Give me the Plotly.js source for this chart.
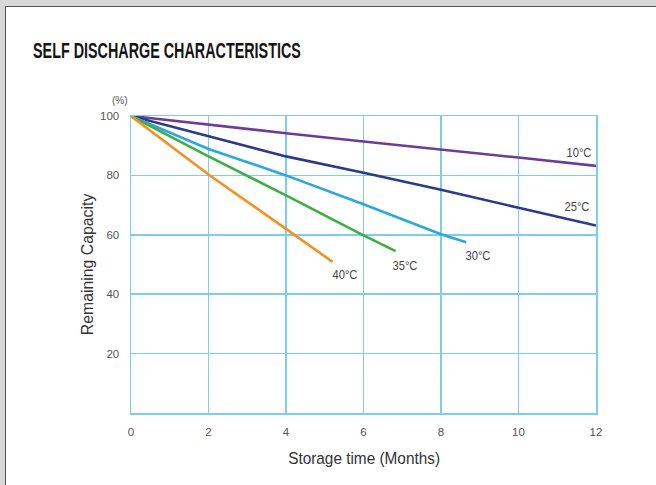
<!DOCTYPE html>
<html>
<head>
<meta charset="utf-8">
<script src="https://cdn.plot.ly/plotly-3.0.1.min.js"></script>
<style>
  html, body { margin: 0; padding: 0; background: #d8d8d8; width: 656px; height: 485px; overflow: hidden; }
  #wrap { position: absolute; left: 5px; top: 6px; width: 651px; height: 479px; background: #fff;
          border-left: 1.5px solid #555; border-top: 1.5px solid #555; }
  #chart { width: 650px; height: 478px; }
</style>
</head>
<body>
<div id="wrap"><div id="chart"></div></div>
<script>
// Data
const months10 = [0, 2, 4, 6, 8, 10, 12];
const cap10    = [100, 97.0, 94.2, 91.4, 88.8, 86.0, 83.2];
const months25 = [0, 2, 4, 6, 8, 10, 12];
const cap25    = [100, 93.1, 86.4, 80.9, 75.2, 69.1, 63.1];
const months30 = [0, 2, 4, 6, 8, 8.65];
const cap30    = [100, 88.9, 80.0, 70.3, 60.2, 57.5];
const months35 = [0, 2, 4, 6, 6.83];
const cap35    = [100, 86.4, 73.3, 59.8, 54.5];
const months40 = [0, 2, 4, 5.2];
const cap40    = [100, 80.3, 62.0, 50.9];

const seriesLabels = ["10°C", "25°C", "30°C", "35°C", "40°C"];
const labelX = [11.56, 11.5, 8.95, 7.08, 5.53];
const labelY = [87.7, 69.5, 53.0, 49.6, 46.5];

const xTicks = [0, 2, 4, 6, 8, 10, 12];
const yTicks = [20, 40, 60, 80, 100];

const colors = ["#6e3b97", "#2c3a8a", "#2ba8e0", "#3caf47", "#f39224"];
const gridColor = "#7dcdef";

const xs = [months10, months25, months30, months35, months40];
const ys = [cap10, cap25, cap30, cap35, cap40];

const traces = xs.map((x, i) => ({
  x: x, y: ys[i], type: "scatter", mode: "lines",
  line: { color: colors[i], width: 2.6 },
  name: seriesLabels[i], hoverinfo: "skip"
}));

const FONT = "Liberation Sans, Arial, Helvetica, sans-serif";
const labelFont = { family: FONT, size: 12.5, color: "#444" };

const annotations = seriesLabels.map((t, i) => ({
  x: labelX[i], y: labelY[i], xref: "x", yref: "y", text: t, showarrow: false,
  font: labelFont, xanchor: "center", yanchor: "middle"
}));

annotations.push({
  x: 0, y: 100, xref: "paper", yref: "y", text: "(%)", showarrow: false,
  xanchor: "center", yanchor: "middle", xshift: -11, yshift: 16,
  font: { family: FONT, size: 10, color: "#555" }
});
annotations.push({
  x: 0, y: 50, xref: "paper", yref: "y", text: "Remaining Capacity", showarrow: false,
  textangle: -90, xanchor: "center", yanchor: "middle", xshift: -43, yshift: 0,
  font: { family: FONT, size: 17, color: "#333" }
});
annotations.push({
  x: 6, y: 0, xref: "x", yref: "paper", text: "Storage time (Months)", showarrow: false,
  xanchor: "center", yanchor: "middle", yshift: -45,
  font: { family: FONT, size: 17, color: "#333" }
});

const layout = {
  width: 650, height: 478,
  margin: { l: 125, r: 60, t: 109, b: 72 },
  paper_bgcolor: "#ffffff", plot_bgcolor: "#ffffff",
  showlegend: false,
  title: {
    text: "<b>SELF DISCHARGE CHARACTERISTICS</b>",
    xref: "container", yref: "container",
    x: 27 / 650, xanchor: "left", y: 1 - 43 / 478, yanchor: "middle",
    font: { family: FONT, size: 22, color: "#151515" }
  },
  xaxis: {
    range: [0, 12], tickvals: xTicks, ticktext: xTicks.map(String),
    showgrid: true, gridcolor: gridColor, gridwidth: 1.5,
    showline: true, linecolor: gridColor, linewidth: 1.5, mirror: true,
    zeroline: false, ticks: "outside", ticklen: 8, tickcolor: "rgba(0,0,0,0)",
    tickfont: { family: FONT, size: 11.5, color: "#555" }
  },
  yaxis: {
    range: [0, 100], tickvals: yTicks, ticktext: yTicks.map(String),
    showgrid: true, gridcolor: gridColor, gridwidth: 1.5,
    showline: true, linecolor: gridColor, linewidth: 1.5, mirror: true,
    zeroline: false, ticks: "outside", ticklen: 8, tickcolor: "rgba(0,0,0,0)",
    tickfont: { family: FONT, size: 11.5, color: "#555" }
  },
  annotations: annotations
};

// Condense a text element horizontally (the reference uses a condensed face)
function condense(el, targetW, anchor) {
  if (!el) return;
  const bb = el.getBBox();
  if (!bb.width) return;
  const s = Math.min(1, targetW / bb.width);
  const cx = anchor === "left" ? bb.x : bb.x + bb.width / 2;
  const prev = el.getAttribute("transform") || "";
  el.setAttribute("transform",
    `translate(${cx},0) scale(${s},1) translate(${-cx},0) ${prev}`);
}

Plotly.newPlot("chart", traces, layout, { displayModeBar: false, staticPlot: true }).then(gd => {
  condense(gd.querySelector(".gtitle"), 268, "left");
  const annTexts = gd.querySelectorAll(".annotation-text");
  annTexts.forEach(t => {
    const txt = t.textContent;
    if (txt === "Remaining Capacity") condense(t, 142, "center");
    else if (txt === "Storage time (Months)") condense(t, 152, "center");
    else if (seriesLabels.includes(txt)) condense(t, 25, "center");
  });
});
</script>
</body>
</html>
